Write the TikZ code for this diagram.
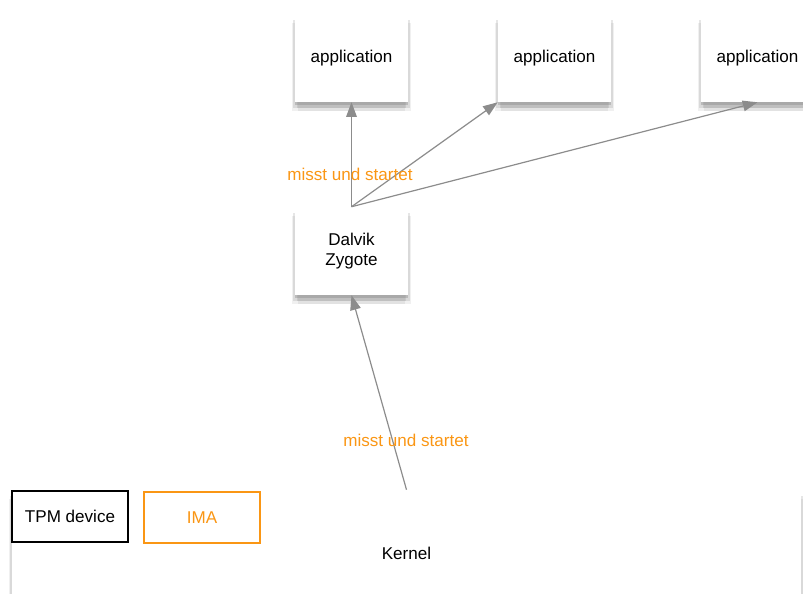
\documentclass[tikz,border=0pt]{standalone}
\usepackage{fontspec}
\setmainfont{Liberation Sans}
\usetikzlibrary{arrows.meta,shadows}
\definecolor{linegray}{RGB}{140, 140, 140}
\definecolor{measureorange}{RGB}{250, 150, 20}

\tikzset{
    softshadow/.style={
        drop shadow={opacity=.12, shadow xshift=-2.5pt, shadow yshift=-6.5pt},
        drop shadow={opacity=.12, shadow xshift=2.5pt, shadow yshift=-6.5pt},
        drop shadow={opacity=.2, shadow xshift=-1.5pt, shadow yshift=-4.5pt},
        drop shadow={opacity=.2, shadow xshift=1.5pt, shadow yshift=-4.5pt},
        drop shadow={opacity=.35, shadow xshift=0pt, shadow yshift=-2.5pt}},
    box/.style={draw=none, fill=white, minimum width=84.75pt, minimum height=66pt,
        align=center, font=\fontsize{12.8}{15.5}\selectfont, softshadow},
    startarrow/.style={draw=linegray, line width=.9pt, -{Triangle[length=11pt,width=8pt]}},
    measurelabel/.style={text=measureorange, font=\fontsize{12.8}{15.5}\selectfont}
}

\begin{document}
\begin{tikzpicture}[x=.75pt, y=-.75pt]
    % Rahmen
    \useasboundingbox (0,0) rectangle (803,593);

    % Kernel
    \node[box, minimum width=591.75pt, minimum height=94.5pt] (kernel) at (406.5,553) {Kernel};
    \node[draw=black, line width=.8pt, fill=white, minimum width=87pt, minimum height=38.25pt,
        font=\fontsize{12.8}{15.5}\selectfont] (tpm) at (70,516.5) {TPM device};
    \node[draw=measureorange, line width=.8pt, minimum width=87pt, minimum height=38.25pt,
        text=measureorange, font=\fontsize{12.8}{15.5}\selectfont] (ima) at (202,517.5) {IMA};

    % Zygote und Anwendungen
    \node[box] (zygote) at (351.5,251) {Dalvik\\Zygote};
    \node[box] (app1) at (351.5,58) {application};
    \node[box] (app2) at (554.5,58) {application};
    \node[box] (app3) at (757.5,58) {application};

    % Pfeile
    \draw[startarrow] (kernel.north) -- (zygote.south);
    \draw[startarrow] (zygote.north) -- (app1.south);
    \draw[startarrow] (zygote.north) -- (app2.south west);
    \draw[startarrow] (zygote.north) -- (app3.south);

    % Beschriftungen
    \node[measurelabel] (label1) at (350,174) {misst und startet};
    \node[measurelabel] (label2) at (406,440) {misst und startet};
\end{tikzpicture}
\end{document}
